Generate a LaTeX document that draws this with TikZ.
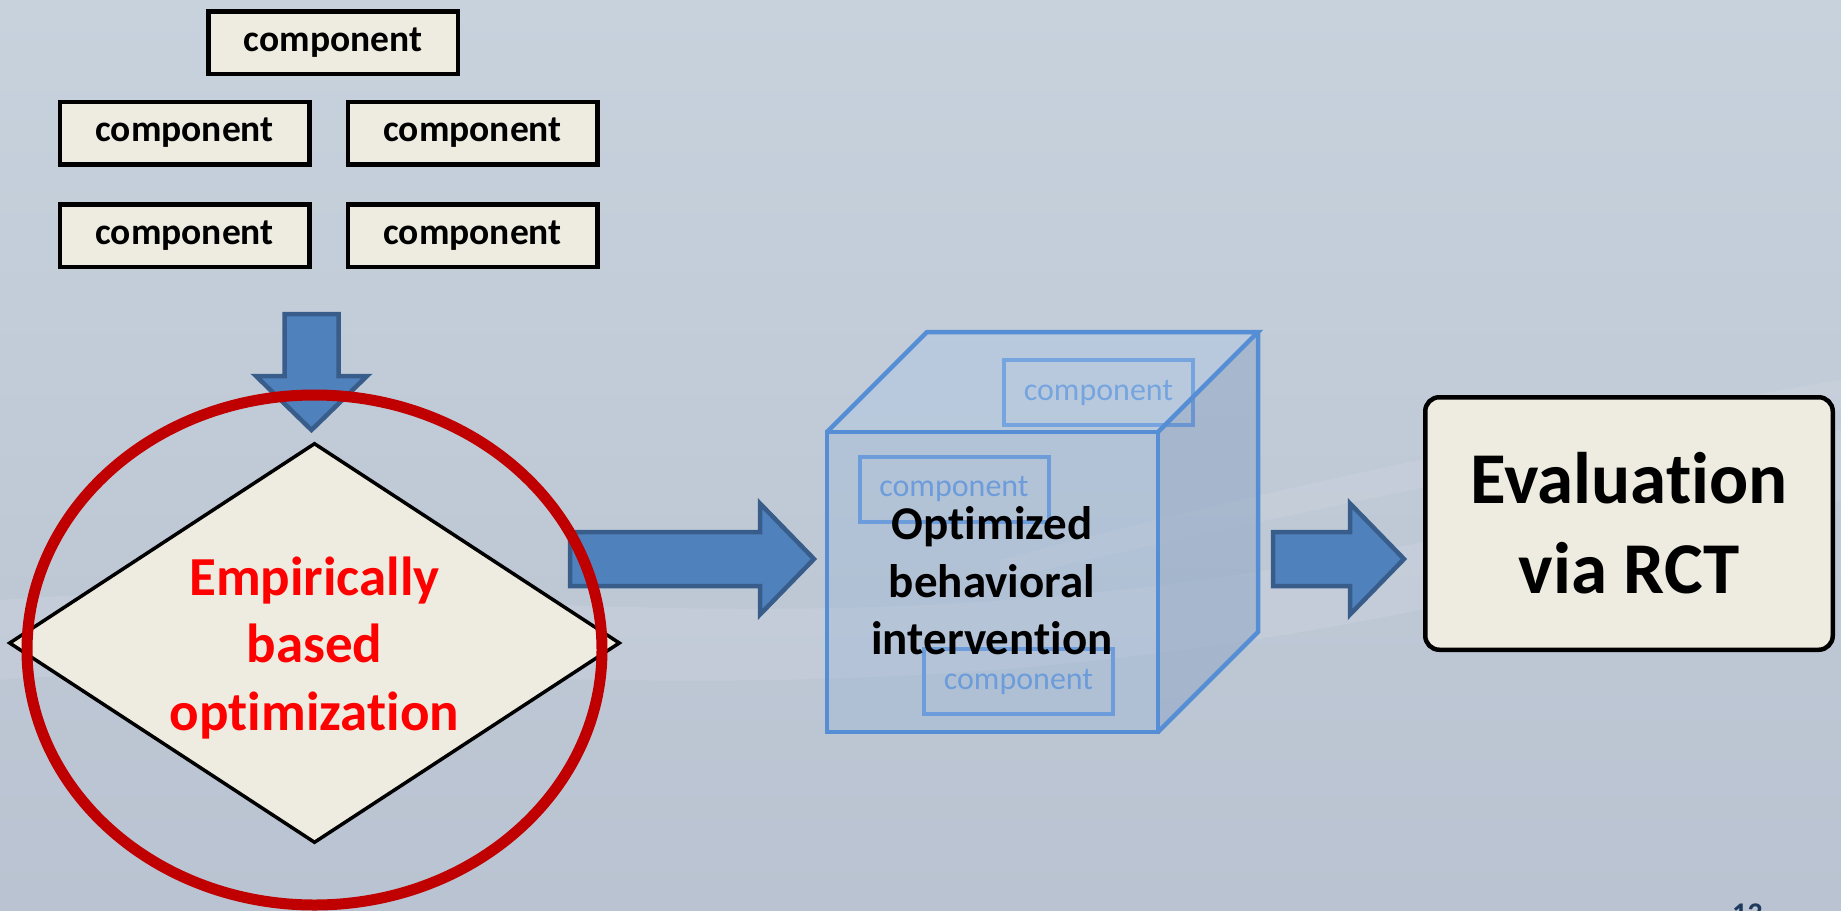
\documentclass[tikz,border=0pt]{standalone}
\usepackage{fontspec}
\setmainfont[Ligatures={NoCommon,NoContextual}, Contextuals=NoAlternate]{Carlito}
\usetikzlibrary{shapes.geometric}
% keep "t" and "i" as separate glyphs
\newcommand{\sep}{\kern0pt }

\definecolor{bgtop}{HTML}{C8D2DD}
\definecolor{bgmid}{HTML}{AEB9CA}
\definecolor{bgbot}{HTML}{B9C3D1}
\definecolor{boxfill}{HTML}{EEECE1}
\definecolor{arrowfill}{HTML}{4F81BD}
\definecolor{arrowedge}{HTML}{385D8A}
\definecolor{ringred}{HTML}{C00000}
\definecolor{hotred}{HTML}{FF0000}
\definecolor{cubeline}{HTML}{558ED5}
\definecolor{ghost}{HTML}{5B93DB}
\definecolor{facefront}{HTML}{95B3D7}
\definecolor{faceside}{HTML}{7F9BC0}
\definecolor{facetop}{HTML}{A9C6E8}
\definecolor{pagenum}{HTML}{1F3A5F}

\begin{document}
\begin{tikzpicture}[
  x=1pt, y=-1pt,
  compbox/.style={draw=black, line width=4.5pt, fill=boxfill, inner sep=0pt,
    minimum width=249.5pt, minimum height=62.5pt,
    font=\fontsize{37.5}{45}\selectfont\bfseries},
  ghostbox/.style={draw=ghost, line width=4pt, inner sep=0pt,
    minimum width=189pt, minimum height=65pt, text=ghost,
    font=\fontsize{32}{39}\selectfont},
  arrowbody/.style={fill=arrowfill, draw=arrowedge, line width=4.5pt, line join=miter},
  cubeedge/.style={draw=cubeline, line width=4.5pt, line join=miter},
  decision/.style={diamond, draw=black, line width=3.5pt, fill=boxfill, inner sep=0pt,
    minimum width=611pt, minimum height=400pt},
  ring/.style={ellipse, draw=ringred, line width=11pt, inner sep=0pt,
    minimum width=575pt, minimum height=510pt},
  evalbox/.style={draw=black, line width=4.5pt, fill=boxfill, rounded corners=14pt,
    minimum width=407.5pt, minimum height=252.5pt, inner sep=0pt, align=center,
    font=\fontsize{73}{90}\selectfont\bfseries},
  pics/barrow/.style={code={
    \draw[arrowbody] (0,-27) -- (#1,-27) -- (#1,-55.5) -- ({#1+54},0)
      -- (#1,55.5) -- (#1,27) -- (0,27) -- cycle;}}
]
\useasboundingbox (0,0) rectangle (1841,910);

% backdrop
\shade[top color=bgtop, middle color=bgmid, bottom color=bgbot] (0,0) rectangle (1841,910);
\fill[white, opacity=0.08] (0,600) .. controls (500,560) and (950,720) .. (1841,430)
  -- (1841,500) .. controls (950,780) and (500,640) .. (0,680) -- cycle;
\fill[white, opacity=0.07] (1000,560) .. controls (1300,480) and (1600,420) .. (1841,380)
  -- (1841,410) .. controls (1600,450) and (1300,510) .. (1000,580) -- cycle;

% candidate components
\node[compbox] (c0) at (333,42.5) {component};
\node[compbox] (c1) at (184.5,133) {component};
\node[compbox] (c2) at (472.5,133) {component};
\node[compbox] (c3) at (184.5,235.5) {component};
\node[compbox] (c4) at (472.5,235.5) {component};

% down arrow into the optimization step
\pic[rotate=-90] at (311.5,314) {barrow=62};

% optimization step
\node[decision] (opt) at (314.5,643) {};
\node[text=hotred, align=center, inner sep=0pt,
  font=\fontsize{55}{67.5}\selectfont\bfseries] (optlabel) at (314.5,648)
  {Empirically\\based\\opt\sep imizat\sep ion};

% arrow to the optimized package
\pic at (570,559) {barrow=190};

% cube holding the selected components
\coordinate (f1) at (827,432);
\coordinate (f2) at (1158,432);
\coordinate (f3) at (1158,732);
\coordinate (f4) at (827,732);
\coordinate (b1) at (927,332);
\coordinate (b2) at (1258,332);
\coordinate (b3) at (1258,632);

\node[ghostbox] (g1) at (1098.5,392.5) {component};
\node[ghostbox] (g2) at (954,489) {component};
\node[ghostbox] (g3) at (1018.5,681.5) {component};

\fill[facetop, opacity=0.35] (f1) -- (b1) -- (b2) -- (f2) -- cycle;
\fill[faceside, opacity=0.40] (f2) -- (b2) -- (b3) -- (f3) -- cycle;
\fill[facefront, opacity=0.30] (f1) -- (f2) -- (f3) -- (f4) -- cycle;
\draw[cubeedge] (f1) -- (f2) -- (f3) -- (f4) -- cycle;
\draw[cubeedge] (f1) -- (b1) -- (b2) -- (f2);
\draw[cubeedge] (b2) -- (b3) -- (f3);

\node[align=center, inner sep=0pt, font=\fontsize{47}{57.5}\selectfont\bfseries]
  (pkg) at (992,581) {Opt\sep imized\\behavioral\\intervent\sep ion};

% arrow to the evaluation
\pic at (1273,559) {barrow=77};

% evaluation
\node[evalbox] (eval) at (1629,523.5) {Evaluat\sep ion\\via RCT};

% highlight ring
\node[ring] (hl) at (314.5,650) {};

% slide number
\node[anchor=north west, inner sep=0pt, text=pagenum,
  font=\fontsize{30}{36}\selectfont\bfseries] (num) at (1732,904) {13};
\end{tikzpicture}
\end{document}
